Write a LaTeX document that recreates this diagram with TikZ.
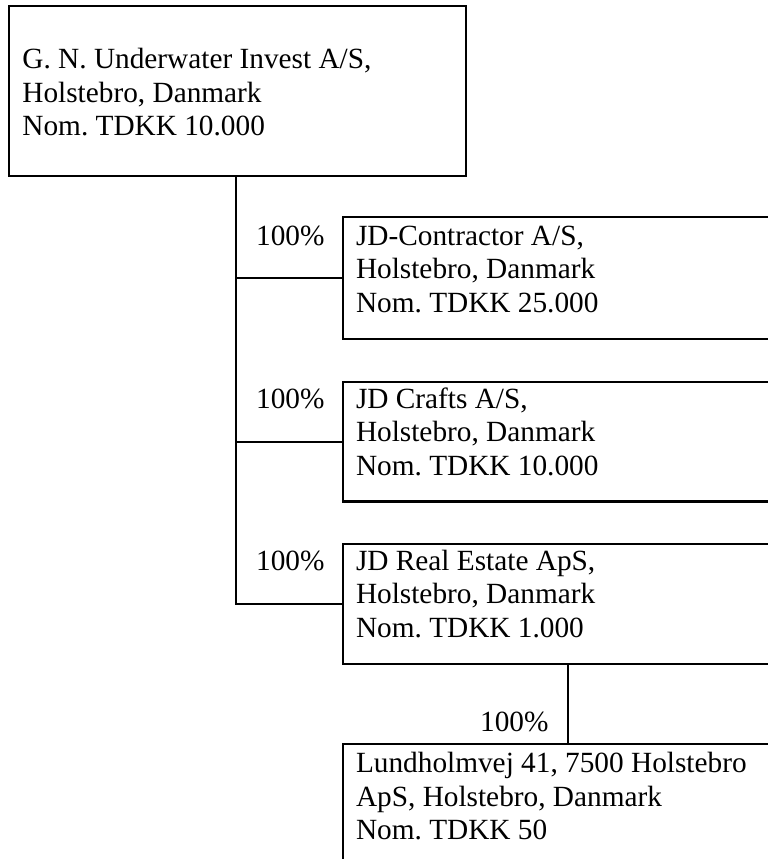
\documentclass[tikz,border=0pt]{standalone}
\usepackage{fontspec}
\setmainfont{Liberation Serif}
\frenchspacing
\begin{document}
\begin{tikzpicture}[x=1pt,y=-1pt,
  every node/.style={inner sep=0pt, outer sep=0pt},
  entity/.style={draw=black, line width=2.2pt, rectangle, anchor=north west, minimum width=450pt},
  label/.style={font=\fontsize{29.3}{33.5}\selectfont\frenchspacing, align=left, anchor=base west},
  pct/.style={font=\fontsize{29.3}{33.5}\selectfont, anchor=base east},
  link/.style={draw=black, line width=2.2pt}]
\clip (0,0) rectangle (768,859);
\useasboundingbox (0,0) rectangle (768,859);
% boxes
\node[entity, minimum width=457pt, minimum height=170pt] (gn) at (9,6) {};
\node[entity, minimum height=122pt] (b2) at (343,217) {};
\node[entity, minimum height=119.5pt] (b3) at (343,382) {};
\node[entity, minimum height=120pt] (b4) at (343,544) {};
\node[entity, minimum height=130pt] (b5) at (343,744) {};
% texts (anchored at the baseline of the last line)
\node[label] (tgn) at (22.4,135.5) {G. N. Underwater Invest A/S,\\Holstebro, Danmark\\Nom. TDKK 10.000};
\node[label] (tb2) at (356,312) {JD-Contractor A/S,\\Holstebro, Danmark\\Nom. TDKK 25.000};
\node[label] (tb3) at (356,475) {JD Crafts A/S,\\Holstebro, Danmark\\Nom. TDKK 10.000};
\node[label] (tb4) at (356,637) {JD Real Estate ApS,\\Holstebro, Danmark\\Nom. TDKK 1.000};
\node[label] (tb5) at (356,839.5) {Lundholmvej 41, 7500 Holstebro\\ApS, Holstebro, Danmark\\Nom. TDKK 50};
% percentages
\node[pct] (p2) at (324.5,245) {100\%};
\node[pct] (p3) at (324.5,408) {100\%};
\node[pct] (p4) at (324.5,570) {100\%};
\node[pct] (p5) at (548.5,731) {100\%};
% connectors
\coordinate (trunk) at (236,176);
\coordinate (drop) at (568,664);
\draw[link] (gn.south -| trunk) |- (b4.west);
\draw[link] (trunk |- b2.west) -- (b2.west);
\draw[link] (trunk |- b3.west) -- (b3.west);
\draw[link] (b4.south -| drop) -- (b5.north -| drop);
\end{tikzpicture}
\end{document}
